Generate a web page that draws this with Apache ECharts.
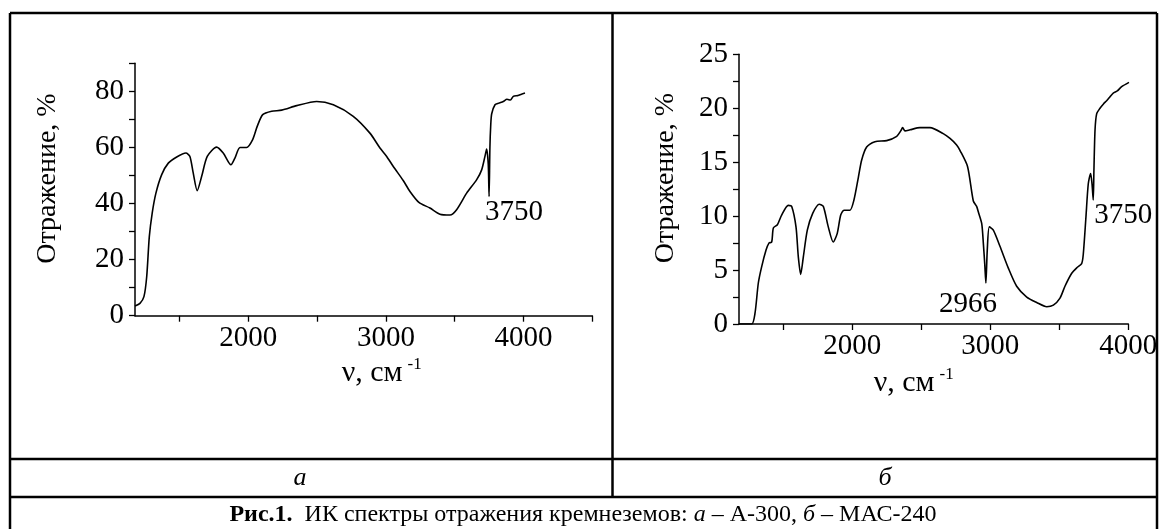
<!DOCTYPE html>
<html>
<head>
<meta charset="utf-8">
<script src="https://cdn.jsdelivr.net/npm/echarts@6/dist/echarts.min.js"></script>
<style>
    html, body { margin: 0; padding: 0; background: #fff; }
    #mychart { width: 1166px; height: 529px; }
</style>
</head>
<body>
<div id="mychart"></div>
<script>
    // спектр а: А-300
    var waveA = [1177, 1213, 1242, 1262, 1281, 1302, 1329, 1371, 1419, 1480, 1547, 1576, 1600, 1629, 1661, 1702, 1770, 1818, 1874, 1903, 1940, 1988, 2032, 2065, 2105, 2170, 2243, 2352, 2497, 2618, 2763, 2884, 2957, 3006, 3054, 3126, 3175, 3240, 3320, 3393, 3466, 3514, 3587, 3660, 3696, 3720, 3732, 3744, 3750, 3756, 3762, 3769, 3793, 3820, 3853, 3880, 3905, 3926, 3960, 3985, 4011]
    var reflA = [3.5, 4.4, 6.8, 13.9, 28.2, 36.6, 43.7, 50.3, 54.4, 56.6, 58.0, 56.8, 50.9, 44.6, 49.6, 56.8, 60.1, 58.0, 53.8, 56.2, 60.0, 60.0, 62.8, 67.5, 71.7, 72.9, 73.3, 74.9, 76.4, 75.2, 71.1, 65.1, 59.8, 56.8, 53.2, 48.2, 44.3, 40.4, 38.4, 36.2, 35.9, 37.8, 43.7, 48.5, 52.0, 56.8, 59.4, 54.0, 42.5, 60.0, 68.0, 72.0, 75.2, 75.8, 76.4, 77.2, 76.9, 78.2, 78.5, 79.0, 79.4]

    // спектр б: МАС-240
    var waveB = [1179, 1271, 1295, 1319, 1343, 1375, 1396, 1416, 1428, 1457, 1488, 1536, 1561, 1592, 1609, 1626, 1645, 1674, 1713, 1761, 1790, 1826, 1862, 1891, 1916, 1940, 1983, 2012, 2044, 2068, 2104, 2164, 2249, 2322, 2351, 2365, 2382, 2418, 2490, 2563, 2659, 2708, 2756, 2780, 2835, 2877, 2901, 2913, 2938, 2950, 2960, 2968, 2978, 2993, 3022, 3070, 3130, 3191, 3264, 3336, 3409, 3457, 3505, 3541, 3590, 3626, 3662, 3674, 3693, 3710, 3727, 3737, 3746, 3751, 3759, 3771, 3795, 3820, 3843, 3870, 3891, 3920, 3952, 4005]
    var reflB = [0, 0, 1.0, 3.8, 5.3, 6.85, 7.5, 7.6, 8.9, 9.2, 10.1, 11.0, 10.9, 9.0, 6.2, 4.6, 6.2, 8.7, 10.25, 11.1, 10.9, 9.0, 7.6, 8.4, 10.1, 10.55, 10.55, 11.5, 13.6, 15.2, 16.4, 16.9, 17.0, 17.4, 17.9, 18.2, 17.9, 18.0, 18.2, 18.2, 17.65, 17.2, 16.6, 16.1, 14.6, 11.4, 10.9, 10.4, 9.3, 7.4, 5.5, 3.8, 6.85, 9.0, 8.7, 7.2, 5.2, 3.5, 2.5, 2.0, 1.6, 1.75, 2.4, 3.5, 4.7, 5.2, 5.6, 6.5, 9.9, 13.0, 13.95, 13.0, 11.5, 14.3, 18.0, 19.5, 20.0, 20.4, 20.7, 21.1, 21.4, 21.6, 22.0, 22.4]

    var xTicksA = [1500, 2000, 2500, 3000, 3500, 4000, 4500]
    var xTicksB = [1500, 2000, 2500, 3000, 3500, 4000]
    var xLabels = [2000, 3000, 4000]

    // подписи пиков: [волновое число, отражение, текст]
    var peaksA = [[3750, 42.5, '3750']]
    var peaksB = [[2968, 3.8, '2966'], [3746, 11.5, '3750']]
    var peakOffsetA = [[25, 16]]
    var peakOffsetB = [[-18, 21], [30, 15]]

    var serif = 'Liberation Serif'
    var black = '#000'

    function pairs(xs, ys) {
        var out = []
        for (var i = 0; i < xs.length; i++) {
            out.push([xs[i], ys[i]])
        }
        return out
    }

    function marks(peaks, offsets) {
        return peaks.map(function (p, i) {
            return {
                name: p[2],
                coord: [p[0], p[1]],
                label: { offset: offsets[i] || [0, 0] }
            }
        })
    }

    function xAxisOf(gridIndex, min, max, ticks, namePad) {
        return {
            type: 'value',
            gridIndex: gridIndex,
            min: min,
            max: max,
            name: '{v|ν, см}{s|-1}',
            nameLocation: 'middle',
            nameGap: 40,
            nameTextStyle: {
                padding: namePad,
                rich: {
                    v: { fontFamily: serif, fontSize: 30, color: black, verticalAlign: 'bottom', lineHeight: 32 },
                    s: { fontFamily: serif, fontSize: 17, color: black, verticalAlign: 'top', lineHeight: 32, padding: [0, 0, 14, 5] }
                }
            },
            axisLine: { onZero: false, lineStyle: { color: black, width: 1.5 } },
            axisTick: { customValues: ticks, length: 6, lineStyle: { color: black, width: 1.3 } },
            axisLabel: {
                customValues: xLabels,
                color: black,
                fontFamily: serif,
                fontSize: 29,
                margin: 8,
                formatter: function (v) { return String(v) }
            },
            splitLine: { show: false }
        }
    }

    function yAxisOf(gridIndex, max, interval, step, nameGap) {
        return {
            type: 'value',
            gridIndex: gridIndex,
            min: 0,
            max: max,
            interval: interval,
            name: 'Отражение, %',
            nameLocation: 'middle',
            nameRotate: 90,
            nameGap: nameGap,
            nameTextStyle: { fontFamily: serif, fontSize: 28, color: black, padding: [0, 0, 0, 22] },
            axisLine: { lineStyle: { color: black, width: 1.5 } },
            axisTick: { length: 6, lineStyle: { color: black, width: 1.3 } },
            axisLabel: {
                color: black,
                fontFamily: serif,
                fontSize: 29,
                margin: 11,
                formatter: function (v) {
                    return Math.abs(v % step) < 1e-6 ? String(v) : ''
                }
            },
            splitLine: { show: false }
        }
    }

    function lineSeries(idx, data, peaks, offsets) {
        return {
            type: 'line',
            xAxisIndex: idx,
            yAxisIndex: idx,
            data: data,
            showSymbol: false,
            smooth: 0.25,
            lineStyle: { color: black, width: 1.6 },
            markPoint: {
                symbol: 'circle',
                symbolSize: 0,
                label: {
                    show: true,
                    position: 'inside',
                    formatter: '{b}',
                    color: black,
                    fontFamily: serif,
                    fontSize: 29
                },
                data: marks(peaks, offsets)
            }
        }
    }

    function hline(y) {
        return { type: 'line', shape: { x1: 10, y1: y, x2: 1157, y2: y }, style: { stroke: black, lineWidth: 2.5 } }
    }

    function vline(x, y1, y2) {
        return { type: 'line', shape: { x1: x, y1: y1, x2: x, y2: y2 }, style: { stroke: black, lineWidth: 2.5 } }
    }

    var myChart = echarts.init(document.getElementById('mychart'))

    var option = {
        backgroundColor: '#fff',
        animation: false,
        grid: [
            { left: 135, top: 63.3, right: 573.7, bottom: 213.3 },
            { left: 739, top: 54.3, right: 37.7, bottom: 205 }
        ],
        xAxis: [
            xAxisOf(0, 1177, 4500, xTicksA, [0, 0, 0, 36]),
            xAxisOf(1, 1179, 4000, xTicksB, [0, 40, 0, 0])
        ],
        yAxis: [
            yAxisOf(0, 90, 10, 20, 73),
            yAxisOf(1, 25, 2.5, 5, 59)
        ],
        series: [
            lineSeries(0, pairs(waveA, reflA), peaksA, peakOffsetA),
            lineSeries(1, pairs(waveB, reflB), peaksB, peakOffsetB)
        ],
        graphic: [
            hline(13),
            hline(459),
            hline(497),
            vline(10, 13, 529),
            vline(1157, 13, 529),
            vline(612.5, 13, 497),
            {
                type: 'text', x: 300, y: 478,
                style: { text: 'а', font: 'italic 26px "Liberation Serif"', fill: black, align: 'center', verticalAlign: 'middle' }
            },
            {
                type: 'text', x: 885, y: 478,
                style: { text: 'б', font: 'italic 26px "Liberation Serif"', fill: black, align: 'center', verticalAlign: 'middle' }
            },
            {
                type: 'text', x: 583, y: 515,
                style: {
                    text: '{b|Рис.1.}  ИК спектры отражения кремнеземов: {i|а} – А-300, {i|б} – МАС-240',
                    font: '24px "Liberation Serif"',
                    fill: black,
                    align: 'center',
                    verticalAlign: 'middle',
                    rich: {
                        b: { fontFamily: serif, fontSize: 24, fontWeight: 'bold', fill: black },
                        i: { fontFamily: serif, fontSize: 24, fontStyle: 'italic', fill: black }
                    }
                }
            }
        ]
    }

    myChart.setOption(option)
</script>
</body>
</html>
